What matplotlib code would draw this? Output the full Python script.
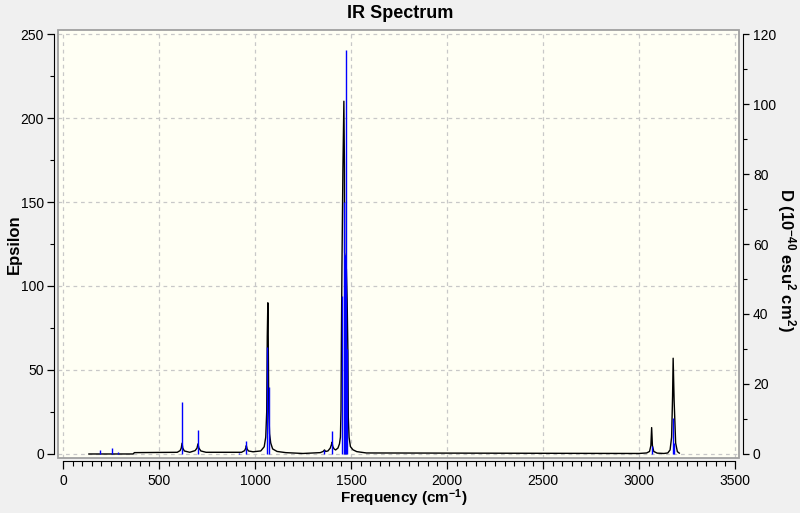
import matplotlib
matplotlib.use("Agg")
import matplotlib.pyplot as plt
from matplotlib.patches import Rectangle
from matplotlib.ticker import MultipleLocator

plt.rcParams["font.family"] = ["Liberation Sans", "DejaVu Sans"]
plt.rcParams["mathtext.fontset"] = "custom"
plt.rcParams["mathtext.rm"] = "Liberation Sans:bold"
plt.rcParams["mathtext.default"] = "rm"

# broadened spectrum (epsilon, left axis)
curve_freq = [135, 365, 372, 595, 610, 616, 620, 624, 632, 660,
              688, 698, 703, 708, 718, 745, 930, 946, 952, 955,
              959, 966, 990, 1030, 1048, 1056, 1061, 1064, 1067, 1069,
              1072, 1076, 1082, 1092, 1115, 1160, 1250, 1340, 1355, 1362,
              1368, 1380, 1392, 1398, 1401, 1405, 1412, 1420, 1432, 1440,
              1445, 1448, 1450, 1453, 1458, 1463, 1466, 1467, 1476, 1480,
              1484, 1486, 1490, 1497, 1510, 1530, 1580, 3000, 3040, 3055,
              3062, 3066, 3070, 3077, 3095, 3130, 3150, 3162, 3170, 3175,
              3178, 3183, 3191, 3200, 3210]
curve_eps = [0.0, 0.0, 0.8, 1.0, 2.0, 3.5, 6.4, 3.5, 1.8, 1.0,
             2.0, 3.5, 6.0, 3.5, 1.8, 1.0, 1.0, 2.0, 3.5, 5.0,
             3.0, 1.8, 1.3, 1.8, 4.3, 10.0, 25.0, 70.0, 90.0, 70.0,
             25.0, 12.0, 6.5, 3.0, 1.5, 0.8, 0.3, 0.8, 1.5, 2.4,
             1.5, 1.8, 3.5, 5.5, 7.0, 4.5, 3.0, 2.4, 3.5, 6.0,
             10.0, 26.0, 66.0, 112.0, 170.0, 210.0, 170.0, 120.0, 110.0, 92.0,
             60.0, 22.0, 10.0, 4.4, 2.5, 1.4, 0.6, 0.3, 0.6, 1.5,
             5.0, 15.7, 5.0, 1.5, 0.5, 0.3, 0.6, 2.4, 10.0, 34.0,
             57.0, 32.0, 6.5, 1.4, 0.5]

# stick spectrum (dipole strength D, right axis)
stick_freq = [194, 255, 285, 620, 703, 915, 955, 1064, 1073, 1361,
              1403, 1455, 1464, 1471, 1475, 1480, 3066, 3175, 3182]
stick_d = [1.1, 1.6, 0.6, 14.9, 6.8, 0.3, 3.7, 30.6, 19.1, 1.1,
           6.7, 45.0, 72.0, 57.0, 115.4, 30.0, 2.3, 10.2, 3.1]

W, H = 800, 513
fig = plt.figure(figsize=(W / 100, H / 100), dpi=100, facecolor="#F0F0F0")
ax = fig.add_axes([58 / W, 1 - 457.5 / H, 681 / W, 427.5 / H])
ax.set_facecolor("#FFFFF4")

ax.plot(curve_freq, curve_eps, color="black", lw=1.0, zorder=3)
ax.set_xlim(-26, 3521)
ax.set_ylim(-2.1, 252.4)

ax2 = ax.twinx()
ax2.vlines(stick_freq, 0, stick_d, color="#0000FF", lw=1.0, zorder=4)
ax2.set_ylim(-2.1 * 0.48, 252.4 * 0.48)

# box around the plot area
ax.add_patch(Rectangle((0, 0), 1, 1, transform=ax.transAxes, fill=False,
                       edgecolor="#A0A0A0", lw=1.3, clip_on=False, zorder=5))

# dashed grid
ax.xaxis.set_major_locator(MultipleLocator(500))
ax.yaxis.set_major_locator(MultipleLocator(50))
ax.grid(True, color="#C8C8C8", lw=0.9, ls=(0, (3, 3)))
ax.set_axisbelow(True)

# detached rulers
for s in ["top", "right"]:
    ax.spines[s].set_visible(False)
ax.spines["left"].set_position(("outward", 2.6))
ax.spines["bottom"].set_position(("outward", 2.6))
ax.spines["left"].set_bounds(0, 250)
ax.spines["bottom"].set_bounds(0, 3500)
for s in ["top", "left", "bottom"]:
    ax2.spines[s].set_visible(False)
ax2.spines["right"].set_position(("outward", 3.0))
ax2.spines["right"].set_bounds(0, 120)

ax.xaxis.set_minor_locator(MultipleLocator(50))
ax.yaxis.set_minor_locator(MultipleLocator(25))
ax2.yaxis.set_major_locator(MultipleLocator(20))
ax2.yaxis.set_minor_locator(MultipleLocator(10))

ax.tick_params(axis="x", which="major", direction="out", length=6, width=0.9,
               labelsize=10, pad=3)
ax.tick_params(axis="x", which="minor", direction="out", length=3.3, width=0.8)
ax.tick_params(axis="y", which="major", direction="out", length=5, width=0.9,
               labelsize=10, pad=2.5)
ax.tick_params(axis="y", which="minor", direction="out", length=3, width=0.8)
ax2.tick_params(axis="y", which="major", direction="out", length=4.5, width=0.9,
                labelsize=10, pad=2.5)
ax2.tick_params(axis="y", which="minor", direction="out", length=3, width=0.8)

fig.text(0.5, 1 - 13 / H, "IR Spectrum", ha="center", va="center",
         fontsize=13, weight="bold")
fig.text(404 / W, 1 - 498 / H, r"Frequency (cm$^{-1}$)", ha="center",
         va="center", fontsize=11, weight="bold")
fig.text(14 / W, 1 - 244 / H, "Epsilon", ha="center", va="center",
         rotation=90, fontsize=12, weight="bold")
fig.text(786 / W, 1 - 260 / H, r"D (10$^{-40}$ esu$^{2}$ cm$^{2}$)",
         ha="center", va="center", rotation=-90, fontsize=12, weight="bold")

fig.savefig("out.png", dpi=100, facecolor=fig.get_facecolor())
